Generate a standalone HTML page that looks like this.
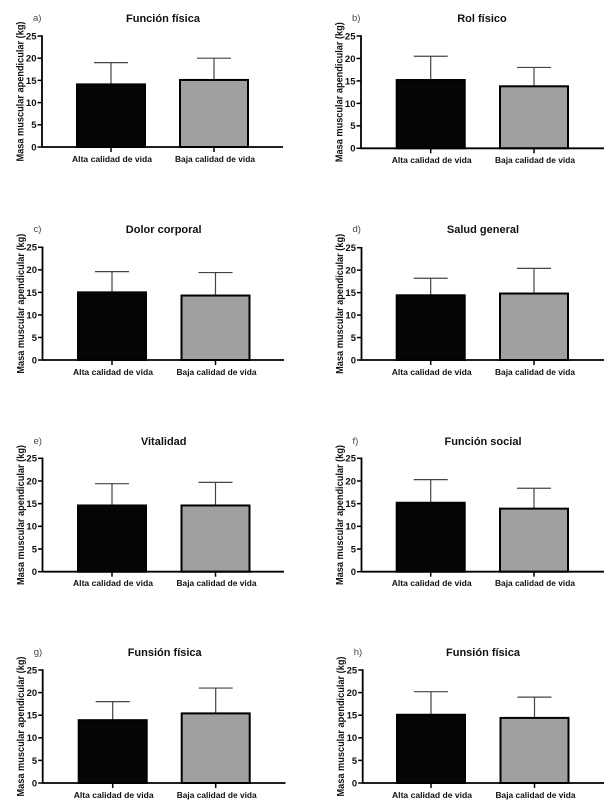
<!DOCTYPE html>
<html lang="es">
<head>
<meta charset="utf-8">
<title>Masa muscular apendicular</title>
<style>
html,body{margin:0;padding:0;background:#fff;width:614px;height:805px;overflow:hidden}
svg{display:block;filter:blur(0.35px)}
text{font-family:"Liberation Sans",sans-serif;fill:#111}
</style>
</head>
<body>
<svg id="chart" width="614" height="805" viewBox="0 0 614 805" xmlns="http://www.w3.org/2000/svg"></svg>
<script>
const categories = ['Alta calidad de vida', 'Baja calidad de vida'];
const panelLetters = ['a)', 'b)', 'c)', 'd)', 'e)', 'f)', 'g)', 'h)'];
const panelTitles = ['Función física', 'Rol físico', 'Dolor corporal', 'Salud general', 'Vitalidad', 'Función social', 'Funsión física', 'Funsión física'];
const altaMeans = [14.1, 15.2, 15.0, 14.4, 14.6, 15.2, 13.9, 15.1];
const bajaMeans = [15.1, 13.8, 14.3, 14.8, 14.6, 13.9, 15.4, 14.4];
const altaErrors = [4.9, 5.3, 4.6, 3.8, 4.8, 5.1, 4.1, 5.1];
const bajaErrors = [4.9, 4.2, 5.1, 5.6, 5.1, 4.5, 5.6, 4.6];
const yTicks = [0, 5, 10, 15, 20, 25];
const yMax = 25;
const yAxisTitle = 'Masa muscular apendicular (kg)';

const layouts = [
  {ax:42, y0:147, yTop:36, xEnd:283, c1:111, c2:214, title:163, titleY:22, labelY:162},
  {ax:361, y0:148.3, yTop:36, xEnd:604, c1:430.7, c2:534, title:482, titleY:22, labelY:163},
  {ax:42.5, y0:360, yTop:247.3, xEnd:284, c1:112, c2:215.5, title:163.7, titleY:233, labelY:375},
  {ax:361.5, y0:360, yTop:247.7, xEnd:604, c1:430.7, c2:534, title:483, titleY:233, labelY:375},
  {ax:42.5, y0:571.7, yTop:458.3, xEnd:284, c1:112, c2:215.5, title:163.7, titleY:445, labelY:586},
  {ax:361.5, y0:571.7, yTop:458.3, xEnd:604, c1:430.7, c2:534, title:483, titleY:445, labelY:586},
  {ax:42.7, y0:783, yTop:670, xEnd:285.5, c1:112.7, c2:215.7, title:164.7, titleY:656, labelY:798},
  {ax:362.7, y0:783, yTop:670, xEnd:604, c1:431, c2:534.5, title:483, titleY:656, labelY:798}
];

const svg = document.getElementById('chart');
const NS = 'http://www.w3.org/2000/svg';

function make(parent, tag, attrs, txt) {
  const el = document.createElementNS(NS, tag);
  for (const k in attrs) el.setAttribute(k, attrs[k]);
  if (txt !== undefined) el.textContent = txt;
  parent.appendChild(el);
  return el;
}
function yScale(L, v) {
  return L.y0 - (v / yMax) * (L.y0 - L.yTop);
}

panelTitles.forEach(function (title, i) {
  const L = layouts[i];
  const g = make(svg, 'g', {});
  
  

  const letter = make(g, 'text', {x: L.ax - 9, y: L.titleY - 1, 'font-size': 9.5, style: 'fill:#444'}, panelLetters[i]);
  
  

  const t = make(g, 'text', {x: L.title, y: L.titleY, 'font-size': 11, 'font-weight': 'bold', 'text-anchor': 'middle'}, title);
  
  

  const yMid = (L.y0 + L.yTop) / 2;
  const yt = make(g, 'text', {
    x: 0, y: 0, 'font-size': 10.5, 'font-weight': 'bold', 'text-anchor': 'middle',
    textLength: 140, lengthAdjust: 'spacingAndGlyphs',
    transform: 'translate(' + (L.ax - 18.5) + ' ' + yMid + ') rotate(-90)'
  }, yAxisTitle);
  
  

  const means = [altaMeans[i], bajaMeans[i]];
  const errs = [altaErrors[i], bajaErrors[i]];
  const centers = [L.c1, L.c2];
  const fills = ['#050505', '#a0a0a3'];

  means.forEach(function (m, j) {
    const c = centers[j];
    const yM = yScale(L, m);
    const yE = yScale(L, m + errs[j]);

    const stem = make(g, 'line', {x1: c, x2: c, y1: yM, y2: yE, stroke: '#444', 'stroke-width': 1.2});
    
    

    const cap = make(g, 'line', {x1: c - 17, x2: c + 17, y1: yE, y2: yE, stroke: '#444', 'stroke-width': 1.2});
    
    

    const bar = make(g, 'rect', {x: c - 34, y: yM, width: 68, height: L.y0 - yM, fill: fills[j], stroke: '#000', 'stroke-width': 2});
    
    

    const tick = make(g, 'line', {x1: c, x2: c, y1: L.y0, y2: L.y0 + 5, stroke: '#000', 'stroke-width': 1.5});
    
    

    const lab = make(g, 'text', {x: c + 1, y: L.labelY, 'font-size': 8.6, 'font-weight': 'bold', 'text-anchor': 'middle', textLength: 80, lengthAdjust: 'spacingAndGlyphs'}, categories[j]);
    
    
  });

  const yAxis = make(g, 'line', {x1: L.ax, x2: L.ax, y1: L.yTop - 0.8, y2: L.y0 + 0.8, stroke: '#000', 'stroke-width': 1.8});
  
  

  const xAxis = make(g, 'line', {x1: L.ax, x2: L.xEnd, y1: L.y0, y2: L.y0, stroke: '#000', 'stroke-width': 1.8});
  
  

  yTicks.forEach(function (v) {
    const y = yScale(L, v);
    const tk = make(g, 'line', {x1: L.ax - 4.5, x2: L.ax, y1: y, y2: y, stroke: '#000', 'stroke-width': 1.5});
    
    

    const tl = make(g, 'text', {x: L.ax - 5.5, y: y + 3.4, 'font-size': 9.5, 'font-weight': 'bold', 'text-anchor': 'end'}, String(v));
    
    
  });
});
</script>
</body>
</html>
